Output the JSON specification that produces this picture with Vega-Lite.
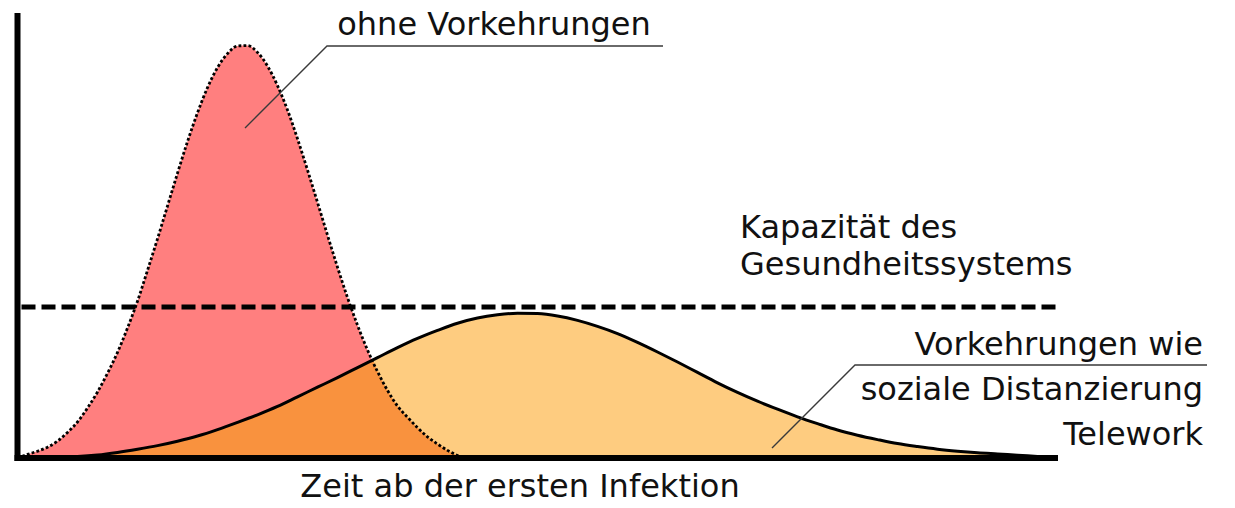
{
  "$schema": "https://vega.github.io/schema/vega-lite/v6.json",
  "width": 1235,
  "height": 508,
  "autosize": {"type": "fit", "contains": "padding"},
  "padding": 0,
  "background": "white",
  "config": {"view": {"stroke": null}},
  "datasets": {
    "ohne": [
      {"t": 0, "faelle": 0}, {"t": 1, "faelle": 0.9}, {"t": 2, "faelle": 1.7}, {"t": 3, "faelle": 2.7},
      {"t": 4, "faelle": 4.2}, {"t": 5, "faelle": 6.4}, {"t": 6, "faelle": 9.0}, {"t": 7, "faelle": 12.5},
      {"t": 8, "faelle": 16.5}, {"t": 9, "faelle": 21.2}, {"t": 10, "faelle": 26.4}, {"t": 11, "faelle": 32.5},
      {"t": 12, "faelle": 39.2}, {"t": 13, "faelle": 46.9}, {"t": 14, "faelle": 54.8}, {"t": 15, "faelle": 63.0},
      {"t": 16, "faelle": 71.2}, {"t": 17, "faelle": 79.1}, {"t": 18, "faelle": 86.3}, {"t": 19, "faelle": 92.6},
      {"t": 20, "faelle": 97.6}, {"t": 21, "faelle": 101.1}, {"t": 22, "faelle": 103.0}, {"t": 23, "faelle": 103.1},
      {"t": 24, "faelle": 101.4}, {"t": 25, "faelle": 98.0}, {"t": 26, "faelle": 93.1}, {"t": 27, "faelle": 87.0},
      {"t": 28, "faelle": 79.8}, {"t": 29, "faelle": 72.0}, {"t": 30, "faelle": 63.9}, {"t": 31, "faelle": 55.7},
      {"t": 32, "faelle": 47.7}, {"t": 33, "faelle": 40.1}, {"t": 34, "faelle": 33.2}, {"t": 35, "faelle": 27.0},
      {"t": 36, "faelle": 21.6}, {"t": 37, "faelle": 16.9}, {"t": 38, "faelle": 13.0}, {"t": 39, "faelle": 10.2},
      {"t": 40, "faelle": 7.6}, {"t": 41, "faelle": 5.3}, {"t": 42, "faelle": 3.5}, {"t": 43, "faelle": 1.9},
      {"t": 44, "faelle": 0.6}, {"t": 44.5, "faelle": 0}
    ],
    "mit": [
      {"t": 0, "faelle": 0}, {"t": 2, "faelle": 0.05}, {"t": 4, "faelle": 0.15}, {"t": 6, "faelle": 0.35},
      {"t": 8, "faelle": 0.75}, {"t": 10, "faelle": 1.4}, {"t": 12, "faelle": 2.2}, {"t": 14, "faelle": 3.1},
      {"t": 16, "faelle": 4.2}, {"t": 18, "faelle": 5.5}, {"t": 20, "faelle": 7.1}, {"t": 22, "faelle": 8.9},
      {"t": 24, "faelle": 10.8}, {"t": 26, "faelle": 12.9}, {"t": 28, "faelle": 15.3}, {"t": 30, "faelle": 17.7},
      {"t": 32, "faelle": 20.1}, {"t": 34, "faelle": 22.6}, {"t": 36, "faelle": 25.1}, {"t": 38, "faelle": 27.6},
      {"t": 40, "faelle": 29.9}, {"t": 42, "faelle": 31.9}, {"t": 44, "faelle": 33.7}, {"t": 46, "faelle": 35.0},
      {"t": 48, "faelle": 35.8}, {"t": 50, "faelle": 36.2}, {"t": 52, "faelle": 36.1}, {"t": 54, "faelle": 35.5},
      {"t": 56, "faelle": 34.4}, {"t": 58, "faelle": 32.9}, {"t": 60, "faelle": 31.1}, {"t": 62, "faelle": 28.9},
      {"t": 64, "faelle": 26.5}, {"t": 66, "faelle": 24.0}, {"t": 68, "faelle": 21.4}, {"t": 70, "faelle": 18.8},
      {"t": 72, "faelle": 16.4}, {"t": 74, "faelle": 14.2}, {"t": 76, "faelle": 12.2}, {"t": 78, "faelle": 10.3},
      {"t": 80, "faelle": 8.6}, {"t": 82, "faelle": 7.0}, {"t": 84, "faelle": 5.7}, {"t": 86, "faelle": 4.6},
      {"t": 88, "faelle": 3.6}, {"t": 90, "faelle": 2.85}, {"t": 92, "faelle": 2.2}, {"t": 94, "faelle": 1.7},
      {"t": 96, "faelle": 1.3}, {"t": 98, "faelle": 1.0}, {"t": 100, "faelle": 0.7}, {"t": 102, "faelle": 0.4},
      {"t": 104, "faelle": 0.1}
    ],
    "ueberlappung": [
      {"t": 0, "faelle": 0}, {"t": 2, "faelle": 0.05}, {"t": 4, "faelle": 0.15}, {"t": 6, "faelle": 0.35},
      {"t": 8, "faelle": 0.75}, {"t": 10, "faelle": 1.4}, {"t": 12, "faelle": 2.2}, {"t": 14, "faelle": 3.1},
      {"t": 16, "faelle": 4.2}, {"t": 18, "faelle": 5.5}, {"t": 20, "faelle": 7.1}, {"t": 22, "faelle": 8.9},
      {"t": 24, "faelle": 10.8}, {"t": 26, "faelle": 12.9}, {"t": 28, "faelle": 15.3}, {"t": 30, "faelle": 17.7},
      {"t": 32, "faelle": 20.1}, {"t": 34, "faelle": 22.6}, {"t": 35.47, "faelle": 24.4}, {"t": 36, "faelle": 21.6},
      {"t": 37, "faelle": 16.9}, {"t": 38, "faelle": 13.0}, {"t": 39, "faelle": 10.2}, {"t": 40, "faelle": 7.6},
      {"t": 41, "faelle": 5.3}, {"t": 42, "faelle": 3.5}, {"t": 43, "faelle": 1.9}, {"t": 44, "faelle": 0.6},
      {"t": 44.5, "faelle": 0}
    ],
    "kapazitaet": [
      {"t": 0.4, "t2": 104.05, "faelle": 37.75, "faelle2": 37.75}
    ],
    "achsen": [
      {"t": -0.3, "t2": 104.05, "faelle": 0, "faelle2": 0},
      {"t": 0, "t2": 0, "faelle": -0.75, "faelle2": 111.25}
    ],
    "hinweislinien": [
      {"gruppe": "ohne", "reihenfolge": 1, "t": 64.55, "faelle": 103.0},
      {"gruppe": "ohne", "reihenfolge": 2, "t": 30.95, "faelle": 103.0},
      {"gruppe": "ohne", "reihenfolge": 3, "t": 22.75, "faelle": 82.5},
      {"gruppe": "mit", "reihenfolge": 1, "t": 118.95, "faelle": 23.25},
      {"gruppe": "mit", "reihenfolge": 2, "t": 83.75, "faelle": 23.25},
      {"gruppe": "mit", "reihenfolge": 3, "t": 75.45, "faelle": 2.5}
    ],
    "texte": [
      {"label": "ohne Vorkehrungen", "t": 47.65, "faelle": 105.75, "ausrichtung": "center"},
      {"label": "Zeit ab der ersten Infektion", "t": 50.25, "faelle": -9.75, "ausrichtung": "center"},
      {"label": "Kapazität des", "t": 72.25, "faelle": 55.0, "ausrichtung": "left"},
      {"label": "Gesundheitssystems", "t": 72.25, "faelle": 45.75, "ausrichtung": "left"},
      {"label": "Vorkehrungen wie", "t": 118.55, "faelle": 25.75, "ausrichtung": "right"},
      {"label": "soziale Distanzierung", "t": 118.55, "faelle": 14.5, "ausrichtung": "right"},
      {"label": "Telework", "t": 118.55, "faelle": 3.25, "ausrichtung": "right"}
    ]
  },
  "encoding": {
    "x": {"field": "t", "type": "quantitative", "scale": {"domain": [-1.75, 121.75], "nice": false, "zero": false}, "axis": null},
    "y": {"field": "faelle", "type": "quantitative", "scale": {"domain": [-12.5, 114.5], "nice": false, "zero": false}, "axis": null}
  },
  "layer": [
    {
      "data": {"name": "ohne"},
      "mark": {"type": "area", "interpolate": "monotone", "color": "#ff7f7f"},
      "encoding": {"y2": {"datum": 0}}
    },
    {
      "data": {"name": "mit"},
      "mark": {"type": "area", "interpolate": "monotone", "color": "#fecc80"},
      "encoding": {"y2": {"datum": 0}}
    },
    {
      "data": {"name": "ueberlappung"},
      "mark": {"type": "area", "interpolate": "monotone", "color": "#f9923e"},
      "encoding": {"y2": {"datum": 0}}
    },
    {
      "data": {"name": "kapazitaet"},
      "mark": {"type": "rule", "color": "black", "strokeWidth": 5, "strokeDash": [14, 6]},
      "encoding": {"x2": {"field": "t2"}, "y2": {"field": "faelle2"}}
    },
    {
      "data": {"name": "mit"},
      "mark": {"type": "line", "interpolate": "monotone", "color": "black", "strokeWidth": 3},
      "encoding": {}
    },
    {
      "data": {"name": "ohne"},
      "mark": {"type": "line", "interpolate": "monotone", "color": "black", "strokeWidth": 2.8, "strokeDash": [2.8, 2.2]},
      "encoding": {}
    },
    {
      "data": {"name": "achsen"},
      "mark": {"type": "rule", "color": "black", "strokeWidth": 6, "strokeCap": "butt"},
      "encoding": {"x2": {"field": "t2"}, "y2": {"field": "faelle2"}}
    },
    {
      "data": {"name": "hinweislinien"},
      "mark": {"type": "line", "color": "#3a3a3a", "strokeWidth": 1.4},
      "encoding": {
        "detail": {"field": "gruppe", "type": "nominal"},
        "order": {"field": "reihenfolge", "type": "quantitative"}
      }
    },
    {
      "data": {"name": "texte"},
      "transform": [{"filter": "datum.ausrichtung === 'center'"}],
      "mark": {"type": "text", "align": "center", "baseline": "alphabetic", "font": "DejaVu Sans", "fontSize": 32, "color": "#111111"},
      "encoding": {"text": {"field": "label", "type": "nominal"}}
    },
    {
      "data": {"name": "texte"},
      "transform": [{"filter": "datum.ausrichtung === 'left'"}],
      "mark": {"type": "text", "align": "left", "baseline": "alphabetic", "font": "DejaVu Sans", "fontSize": 32, "color": "#111111"},
      "encoding": {"text": {"field": "label", "type": "nominal"}}
    },
    {
      "data": {"name": "texte"},
      "transform": [{"filter": "datum.ausrichtung === 'right'"}],
      "mark": {"type": "text", "align": "right", "baseline": "alphabetic", "font": "DejaVu Sans", "fontSize": 32, "color": "#111111"},
      "encoding": {"text": {"field": "label", "type": "nominal"}}
    }
  ]
}
